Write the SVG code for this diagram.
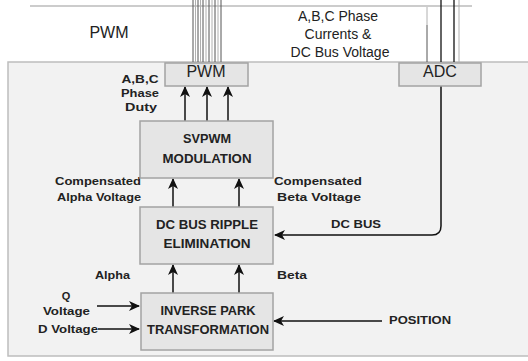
<svg xmlns="http://www.w3.org/2000/svg" width="528" height="361" viewBox="0 0 528 361">
<style>
.panel{fill:#f2f2f2;stroke:#bdbdbd;stroke-width:1.5}
.box{fill:#e5e5e5;stroke:#a3a3a3;stroke-width:1.5}
.t{font-family:"Liberation Sans",Arial,sans-serif;fill:#222}
.b{font-family:"Liberation Sans",Arial,sans-serif;font-weight:bold;fill:#222}
.w{stroke:#111;stroke-width:1.5;fill:none}
.dk{stroke:#555;stroke-width:1}
.lt{stroke:#b0b0b0;stroke-width:1}
</style>
<defs>
<marker id="ah" markerUnits="userSpaceOnUse" markerWidth="12" markerHeight="10" refX="10" refY="5" orient="auto">
<path d="M0,0 L11,5 L0,10 L3,5 z" fill="#111"/>
</marker>
</defs>
<rect width="528" height="361" fill="#fff"/>
<line x1="30" y1="6" x2="472" y2="6" stroke="#bbb" stroke-width="1.5"/>
<rect class="panel" x="8" y="62" width="530" height="294"/>
<g id="bus-lines">
<line class="lt" x1="195.5" y1="0" x2="195.5" y2="62"/>
<line class="lt" x1="200.5" y1="0" x2="200.5" y2="62"/>
<line class="lt" x1="206" y1="0" x2="206" y2="62"/>
<line class="lt" x1="212" y1="0" x2="212" y2="62"/>
<line class="lt" x1="218" y1="0" x2="218" y2="62"/>
<line class="dk" x1="193" y1="0" x2="193" y2="62"/>
<line class="dk" x1="198" y1="0" x2="198" y2="62"/>
<line class="dk" x1="203" y1="0" x2="203" y2="62"/>
<line class="dk" x1="209" y1="0" x2="209" y2="62"/>
<line class="dk" x1="215" y1="0" x2="215" y2="62"/>
<line class="dk" x1="221" y1="0" x2="221" y2="62"/>
<line class="lt" x1="427" y1="7" x2="427" y2="25"/>
<line class="dk" x1="427" y1="25" x2="427" y2="62"/>
<line stroke="#111" stroke-width="1.3" x1="441" y1="0" x2="441" y2="62"/>
<line stroke="#111" stroke-width="1.3" x1="454" y1="0" x2="454" y2="62"/>
<line class="lt" x1="459" y1="0" x2="459" y2="62"/>
</g>
<g id="labels">
<text class="t" x="109" y="38" font-size="16" text-anchor="middle">PWM</text>
<text class="t" x="338" y="21" font-size="14" text-anchor="middle">A,B,C Phase</text>
<text class="t" x="338" y="39" font-size="14" text-anchor="middle">Currents &amp;</text>
<text class="t" x="340" y="57" font-size="14" text-anchor="middle">DC Bus Voltage</text>
<text class="b" x="140" y="83" font-size="11" text-anchor="middle" textLength="37" lengthAdjust="spacingAndGlyphs">A,B,C</text>
<text class="b" x="140" y="97" font-size="11" text-anchor="middle" textLength="38" lengthAdjust="spacingAndGlyphs">Phase</text>
<text class="b" x="141" y="111" font-size="11" text-anchor="middle" textLength="32" lengthAdjust="spacingAndGlyphs">Duty</text>
<text class="b" x="55" y="185" font-size="11" textLength="86" lengthAdjust="spacingAndGlyphs">Compensated</text>
<text class="b" x="57" y="201" font-size="11" textLength="84" lengthAdjust="spacingAndGlyphs">Alpha Voltage</text>
<text class="b" x="274" y="185" font-size="11" textLength="88" lengthAdjust="spacingAndGlyphs">Compensated</text>
<text class="b" x="277" y="201" font-size="11" textLength="84" lengthAdjust="spacingAndGlyphs">Beta  Voltage</text>
<text class="b" x="331" y="228" font-size="11" textLength="50" lengthAdjust="spacingAndGlyphs">DC BUS</text>
<text class="b" x="95" y="279" font-size="11" textLength="35" lengthAdjust="spacingAndGlyphs">Alpha</text>
<text class="b" x="277" y="279" font-size="11" textLength="30" lengthAdjust="spacingAndGlyphs">Beta</text>
<text class="b" x="66" y="300" font-size="11" text-anchor="middle">Q</text>
<text class="b" x="43" y="315" font-size="11" textLength="47" lengthAdjust="spacingAndGlyphs">Voltage</text>
<text class="b" x="38" y="333" font-size="11" textLength="60" lengthAdjust="spacingAndGlyphs">D Voltage</text>
<text class="b" x="389" y="324" font-size="11" textLength="62" lengthAdjust="spacingAndGlyphs">POSITION</text>
</g>
<g id="connectors">
<line class="w" x1="185" y1="121" x2="185" y2="87" marker-end="url(#ah)"/>
<line class="w" x1="207" y1="121" x2="207" y2="87" marker-end="url(#ah)"/>
<line class="w" x1="228" y1="121" x2="228" y2="87" marker-end="url(#ah)"/>
<line class="w" x1="173" y1="207" x2="173" y2="179" marker-end="url(#ah)"/>
<line class="w" x1="239" y1="207" x2="239" y2="179" marker-end="url(#ah)"/>
<line class="w" x1="173" y1="293" x2="173" y2="265" marker-end="url(#ah)"/>
<line class="w" x1="239" y1="293" x2="239" y2="265" marker-end="url(#ah)"/>
<path class="w" d="M441,86 V226 Q441,235 432,235 H275" marker-end="url(#ah)"/>
<line class="w" x1="97" y1="306" x2="139" y2="306" marker-end="url(#ah)"/>
<line class="w" x1="98" y1="329" x2="139" y2="329" marker-end="url(#ah)"/>
<line class="w" x1="382" y1="321" x2="274" y2="321" marker-end="url(#ah)"/>
</g>
<g id="pwm">
<rect class="box" x="165" y="63" width="83" height="23"/>
<text class="t" x="206" y="77" font-size="16" text-anchor="middle">PWM</text>
</g>
<g id="adc">
<rect class="box" x="399" y="63" width="82" height="23"/>
<text class="t" x="440" y="77" font-size="16" text-anchor="middle">ADC</text>
</g>
<g id="svpwm">
<rect class="box" x="140" y="121" width="133" height="57"/>
<text class="b" x="207" y="143" font-size="12" text-anchor="middle" textLength="48" lengthAdjust="spacingAndGlyphs">SVPWM</text>
<text class="b" x="207" y="163" font-size="12" text-anchor="middle" textLength="89" lengthAdjust="spacingAndGlyphs">MODULATION</text>
</g>
<g id="dcbus">
<rect class="box" x="140" y="207" width="133" height="57"/>
<text class="b" x="207" y="229" font-size="12" text-anchor="middle" textLength="102" lengthAdjust="spacingAndGlyphs">DC BUS RIPPLE</text>
<text class="b" x="207" y="248" font-size="12" text-anchor="middle" textLength="87" lengthAdjust="spacingAndGlyphs">ELIMINATION</text>
</g>
<g id="invpark">
<rect class="box" x="141" y="293" width="132" height="57"/>
<text class="b" x="208" y="315" font-size="12" text-anchor="middle" textLength="95" lengthAdjust="spacingAndGlyphs">INVERSE PARK</text>
<text class="b" x="208" y="334" font-size="12" text-anchor="middle" textLength="122" lengthAdjust="spacingAndGlyphs">TRANSFORMATION</text>
</g>
</svg>
